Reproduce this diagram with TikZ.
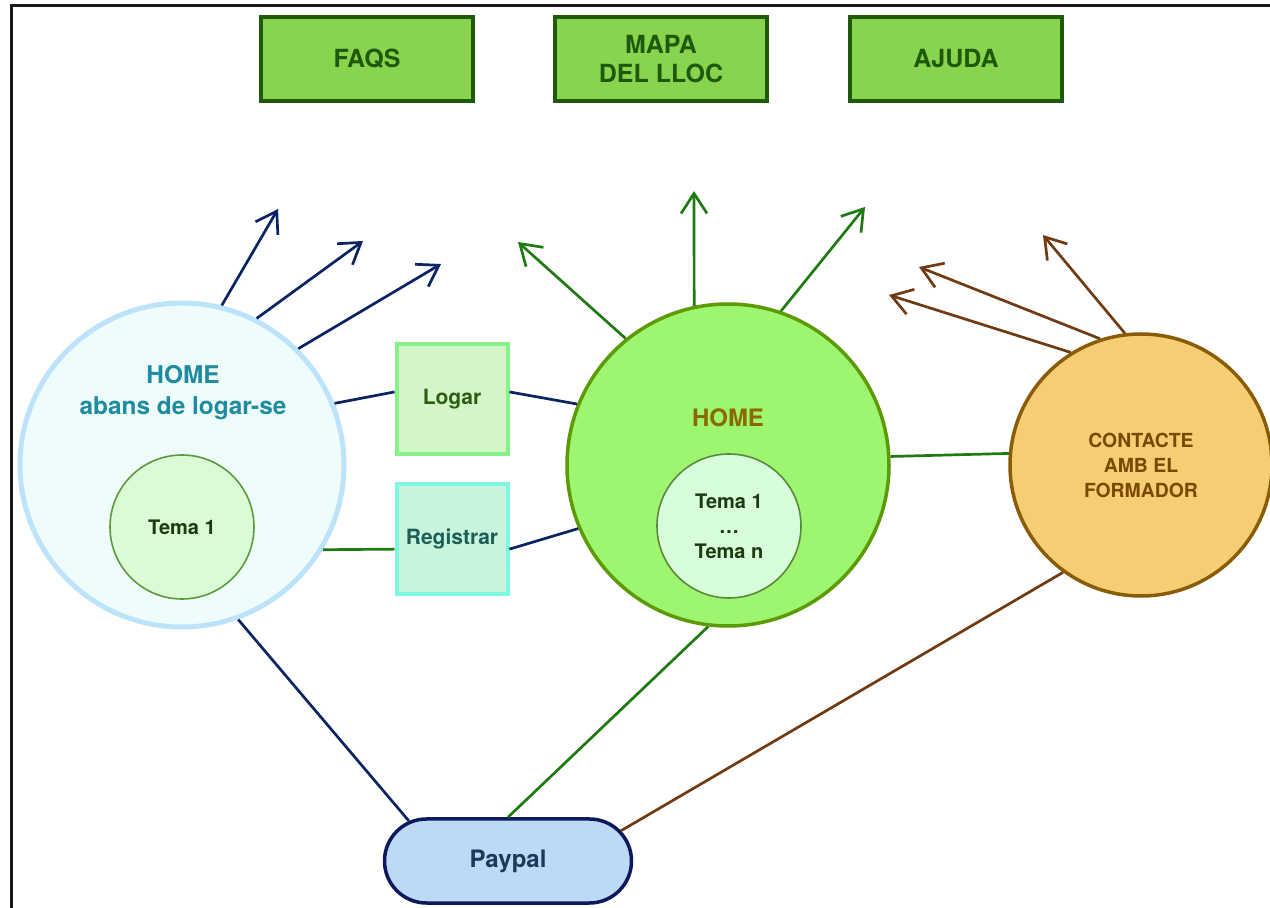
\documentclass[tikz,border=0pt]{standalone}
\usepackage{fontspec}
\setmainfont{TeX Gyre Heros}
\usetikzlibrary{arrows.meta,shapes.misc}
\definecolor{navy}{HTML}{0A2463}
\definecolor{lgreen}{HTML}{1F7A12}
\definecolor{lbrown}{HTML}{703A12}
\definecolor{topfill}{HTML}{88D44E}
\definecolor{topdk}{HTML}{1F5A0A}
\definecolor{leftfill}{HTML}{EEFCFC}
\definecolor{leftdraw}{HTML}{BDE3FB}
\definecolor{lefttext}{HTML}{1E8C9E}
\definecolor{temaLfill}{HTML}{DAFBD6}
\definecolor{temaLdraw}{HTML}{5E9A3C}
\definecolor{logarfill}{HTML}{D3F5C8}
\definecolor{logardraw}{HTML}{88F28A}
\definecolor{logartext}{HTML}{2B5E12}
\definecolor{regfill}{HTML}{C6F5DC}
\definecolor{regdraw}{HTML}{80F7E0}
\definecolor{regtext}{HTML}{1D5F56}
\definecolor{homefill}{HTML}{9DF570}
\definecolor{homedraw}{HTML}{5C9A06}
\definecolor{hometext}{HTML}{8A6A00}
\definecolor{temaHfill}{HTML}{D8FDDA}
\definecolor{temaHdraw}{HTML}{5A8A3A}
\definecolor{tematext}{HTML}{1E3A10}
\definecolor{confill}{HTML}{F5CE73}
\definecolor{condraw}{HTML}{8A5C08}
\definecolor{context}{HTML}{7A4A00}
\definecolor{payfill}{HTML}{BDD9F6}
\definecolor{paydraw}{HTML}{0C1A5C}
\definecolor{paytext}{HTML}{1A3A5A}
\begin{document}
\begin{tikzpicture}[x=0.5pt,y=-0.5pt,
  frame/.style={draw=black!90, line width=1.5pt},
  topbox/.style={draw=topdk, fill=topfill, line width=1.75pt, minimum width=106pt, minimum height=42pt,
    font=\bfseries\fontsize{12.5}{14.5}\selectfont, text=topdk, align=center, inner sep=0pt},
  bigcirc/.style={circle, inner sep=0pt},
  temacirc/.style={circle, inner sep=0pt, minimum size=72pt, line width=0.8pt,
    font=\bfseries\fontsize{10}{12.5}\selectfont, text=tematext, align=center},
  sqbox/.style={rectangle, inner sep=0pt, minimum width=55.5pt, minimum height=55pt, line width=2pt,
    font=\bfseries\fontsize{10.5}{12}\selectfont},
  conn/.style={line width=1.35pt},
  arr/.style={line width=1.35pt, -{Straight Barb[length=10pt,width=13pt]}}
]
\useasboundingbox (0,0) rectangle (1270,908);
\draw[frame] (11,908) -- (11,6) -- (1270,6);

% top boxes
\node[topbox] (faqs) at (367,59) {FAQS};
\node[topbox] (mapa) at (661,59) {MAPA\\DEL LLOC};
\node[topbox] (ajuda) at (956,59) {AJUDA};

% left home
\node[bigcirc, minimum size=162pt, draw=leftdraw, fill=leftfill, line width=2.5pt] (homeL) at (182,465) {};
\node[font=\bfseries\fontsize{12.2}{15.5}\selectfont, text=lefttext, align=center] (homeLtxt) at (183,393) {HOME\\abans de logar-se};
\node[temacirc, draw=temaLdraw, fill=temaLfill] (temaL) at (182,527) {Tema 1};

% logar / registrar
\node[sqbox, draw=logardraw, fill=logarfill, text=logartext] (logar) at (452,399) {Logar};
\node[sqbox, draw=regdraw, fill=regfill, text=regtext] (reg) at (452,539) {Registrar};

% central home
\node[bigcirc, minimum size=161pt, draw=homedraw, fill=homefill, line width=1.75pt] (home) at (728,465) {};
\node[font=\bfseries\fontsize{12}{14}\selectfont, text=hometext] (hometxt) at (728,418) {HOME};
\node[temacirc, draw=temaHdraw, fill=temaHfill] (temaH) at (729,526) {Tema 1\\\dots\\Tema n};

% contacte
\node[bigcirc, minimum size=131pt, draw=condraw, fill=confill, line width=1.75pt,
  font=\bfseries\fontsize{9.7}{12.5}\selectfont, text=context, align=center] (cont) at (1141,465) {CONTACTE\\AMB EL\\FORMADOR};

% paypal
\node[rounded rectangle, draw=paydraw, fill=payfill, line width=1.75pt, minimum width=123.5pt, minimum height=42pt,
  inner sep=0pt, font=\bfseries\fontsize{12}{14}\selectfont, text=paytext] (paypal) at (508,861) {Paypal};

% connectors
\draw[conn, navy] (homeL.22) -- (logar.173);
\draw[conn, navy] (logar.7) -- (home.158);
\draw[conn, lgreen] (homeL.-31) -- (reg.190);
\draw[conn, navy] (reg.-10) -- (home.203);
\draw[conn, lgreen] (home.3.5) -- (cont.175.6);
\draw[conn, navy] (homeL.-70.4) -- (paypal.158);
\draw[conn, lgreen] (home.263) -- (paypal.north);
\draw[conn, lbrown] (cont.234.3) -- (paypal.15.6);

% arrow tips
\coordinate (a1) at (278,209);
\coordinate (a2) at (363,241);
\coordinate (a3) at (441,264);
\coordinate (h1) at (518,242);
\coordinate (h2) at (694,191);
\coordinate (h3) at (865,207);
\coordinate (c1) at (889,295);
\coordinate (c2) at (919,267);
\coordinate (c3) at (1043,235);

\draw[arr, navy] (homeL.76.8) -- (a1);
\draw[arr, navy] (homeL.63.1) -- (a2);
\draw[arr, navy] (homeL.45.5) -- (a3);
\draw[arr, lgreen] (home.129.7) -- (h1);
\draw[arr, lgreen] (home.102) -- (h2);
\draw[arr, lgreen] (home.71.8) -- (h3);
\draw[arr, lbrown] (cont.122.2) -- (c1);
\draw[arr, lbrown] (cont.108.6) -- (c2);
\draw[arr, lbrown] (cont.97.8) -- (c3);
\end{tikzpicture}
\end{document}
